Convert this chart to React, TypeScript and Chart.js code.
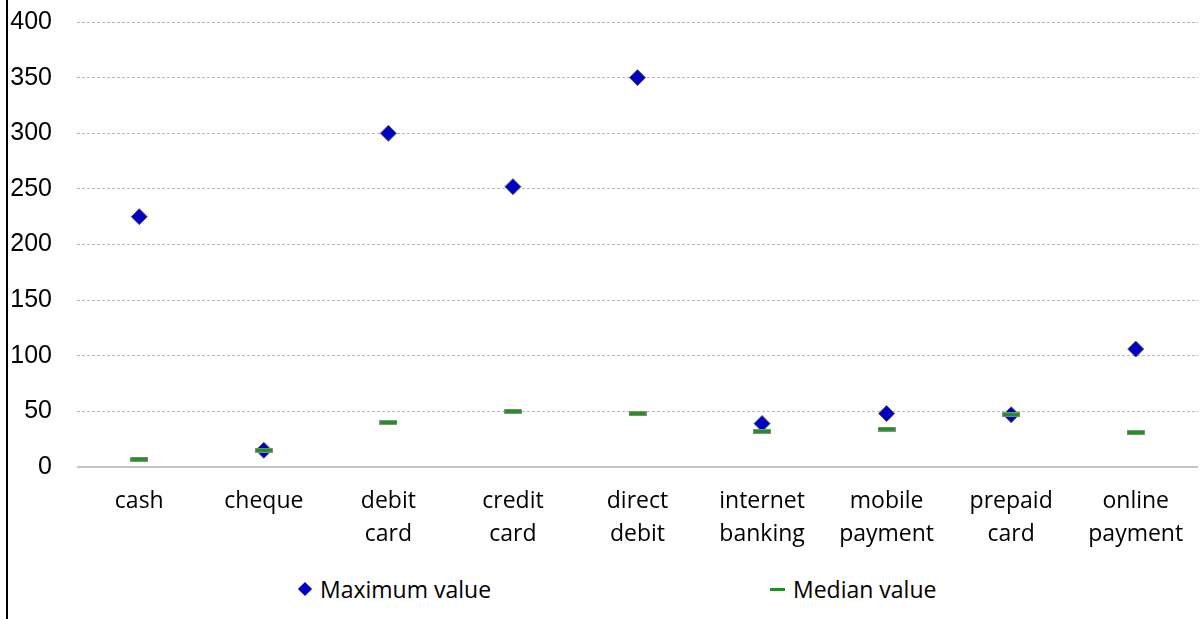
import React, { useEffect, useRef } from "react";
import { Chart, registerables } from "chart.js";

Chart.register(...registerables);

const categories: string[][] = [
  ["cash"],
  ["cheque"],
  ["debit", "card"],
  ["credit", "card"],
  ["direct", "debit"],
  ["internet", "banking"],
  ["mobile", "payment"],
  ["prepaid", "card"],
  ["online", "payment"],
];
const maximumValues = [225, 15, 300, 252, 350, 39, 48, 47, 106];
const medianValues = [7, 15, 40, 50, 48, 32, 34, 47, 31];
const seriesNames = ["Maximum value", "Median value"];
const yMin = 0;
const yMax = 400;
const yStep = 50;

const BLUE = "#0000c4";
const GREEN = "#1a941a";
const LABEL_FONT = "'Open Sans', 'Noto Sans', sans-serif";
const TICK_FONT = "'Liberation Sans', Arial, sans-serif";

function makeDash(): HTMLCanvasElement {
  const c = document.createElement("canvas");
  c.width = 18;
  c.height = 5;
  const g = c.getContext("2d")!;
  g.fillStyle = "#8a8a8a";
  g.fillRect(0, 0, 18, 5);
  g.fillStyle = GREEN;
  g.fillRect(1, 1, 16, 3);
  return c;
}

export default function App() {
  const ref = useRef<HTMLCanvasElement | null>(null);

  useEffect(() => {
    if (!ref.current) return;
    const dash = makeDash();
    const chart = new Chart(ref.current, {
      type: "line",
      data: {
        labels: categories,
        datasets: [
          {
            label: seriesNames[0],
            data: maximumValues,
            showLine: false,
            pointStyle: "rectRot",
            pointRadius: 8,
            pointHoverRadius: 8,
            pointBackgroundColor: BLUE,
            pointBorderColor: "#555",
            pointBorderWidth: 1,
            order: 1,
          },
          {
            label: seriesNames[1],
            data: medianValues,
            showLine: false,
            pointStyle: dash as any,
            pointRadius: 9,
            order: 0,
          },
        ],
      },
      options: {
        animation: false,
        responsive: false,
        maintainAspectRatio: false,
        layout: { autoPadding: false, padding: { top: 22, right: 4, left: 0, bottom: 0 } },
        plugins: {
          legend: { display: false },
          tooltip: { enabled: false },
        },
        scales: {
          x: {
            type: "category",
            offset: true,
            grid: { display: false, drawTicks: false },
            border: { display: false },
            ticks: {
              color: "#000",
              padding: 18,
              maxRotation: 0,
              autoSkip: false,
              font: { family: LABEL_FONT, size: 23, lineHeight: 1.435 },
            },
            afterFit: (s: any) => {
              s.height = 93;
              s.paddingLeft = 0;
              s.paddingRight = 0;
            },
          },
          y: {
            min: yMin,
            max: yMax,
            border: {
              display: false,
              dash: (ctx: any) => (ctx.tick && ctx.tick.value === 0 ? [] : [3, 2]),
            },
            grid: {
              drawTicks: false,
              color: (ctx: any) => (ctx.tick && ctx.tick.value === 0 ? "#c4c4c4" : "#b8b8b8"),
              lineWidth: (ctx: any) => (ctx.tick && ctx.tick.value === 0 ? 2 : 1),
            },
            ticks: {
              stepSize: yStep,
              color: "#000",
              padding: 25,
              font: { family: TICK_FONT, size: 25 },
            },
            afterFit: (s: any) => {
              s.width = 69;
              s.paddingTop = 0;
              s.paddingBottom = 0;
            },
          },
        },
      },
    });
    return () => chart.destroy();
  }, []);

  return (
    <div style={{ position: "absolute", left: 0, top: 0, width: 1202, height: 619, background: "#fff" }}>
      <div style={{ position: "absolute", left: 6, top: 0, width: 2, height: 619, background: "#000" }} />
      <canvas
        ref={ref}
        width={1194}
        height={560}
        style={{ position: "absolute", left: 8, top: 0, width: 1194, height: 560 }}
      />
      <div
        style={{
          position: "absolute",
          left: 0,
          top: 574,
          width: 1202,
          height: 30,
          fontFamily: LABEL_FONT,
          fontSize: 23,
          lineHeight: "30px",
          color: "#000",
        }}
      >
        <span
          style={{
            position: "absolute",
            left: 300,
            top: 10,
            width: 10,
            height: 10,
            background: BLUE,
            transform: "rotate(45deg)",
          }}
        />
        <span style={{ position: "absolute", left: 320, top: 0, whiteSpace: "nowrap" }}>{seriesNames[0]}</span>
        <span
          style={{
            position: "absolute",
            left: 770,
            top: 14,
            width: 15,
            height: 3,
            background: GREEN,
          }}
        />
        <span style={{ position: "absolute", left: 793, top: 0, whiteSpace: "nowrap" }}>{seriesNames[1]}</span>
      </div>
    </div>
  );
}
